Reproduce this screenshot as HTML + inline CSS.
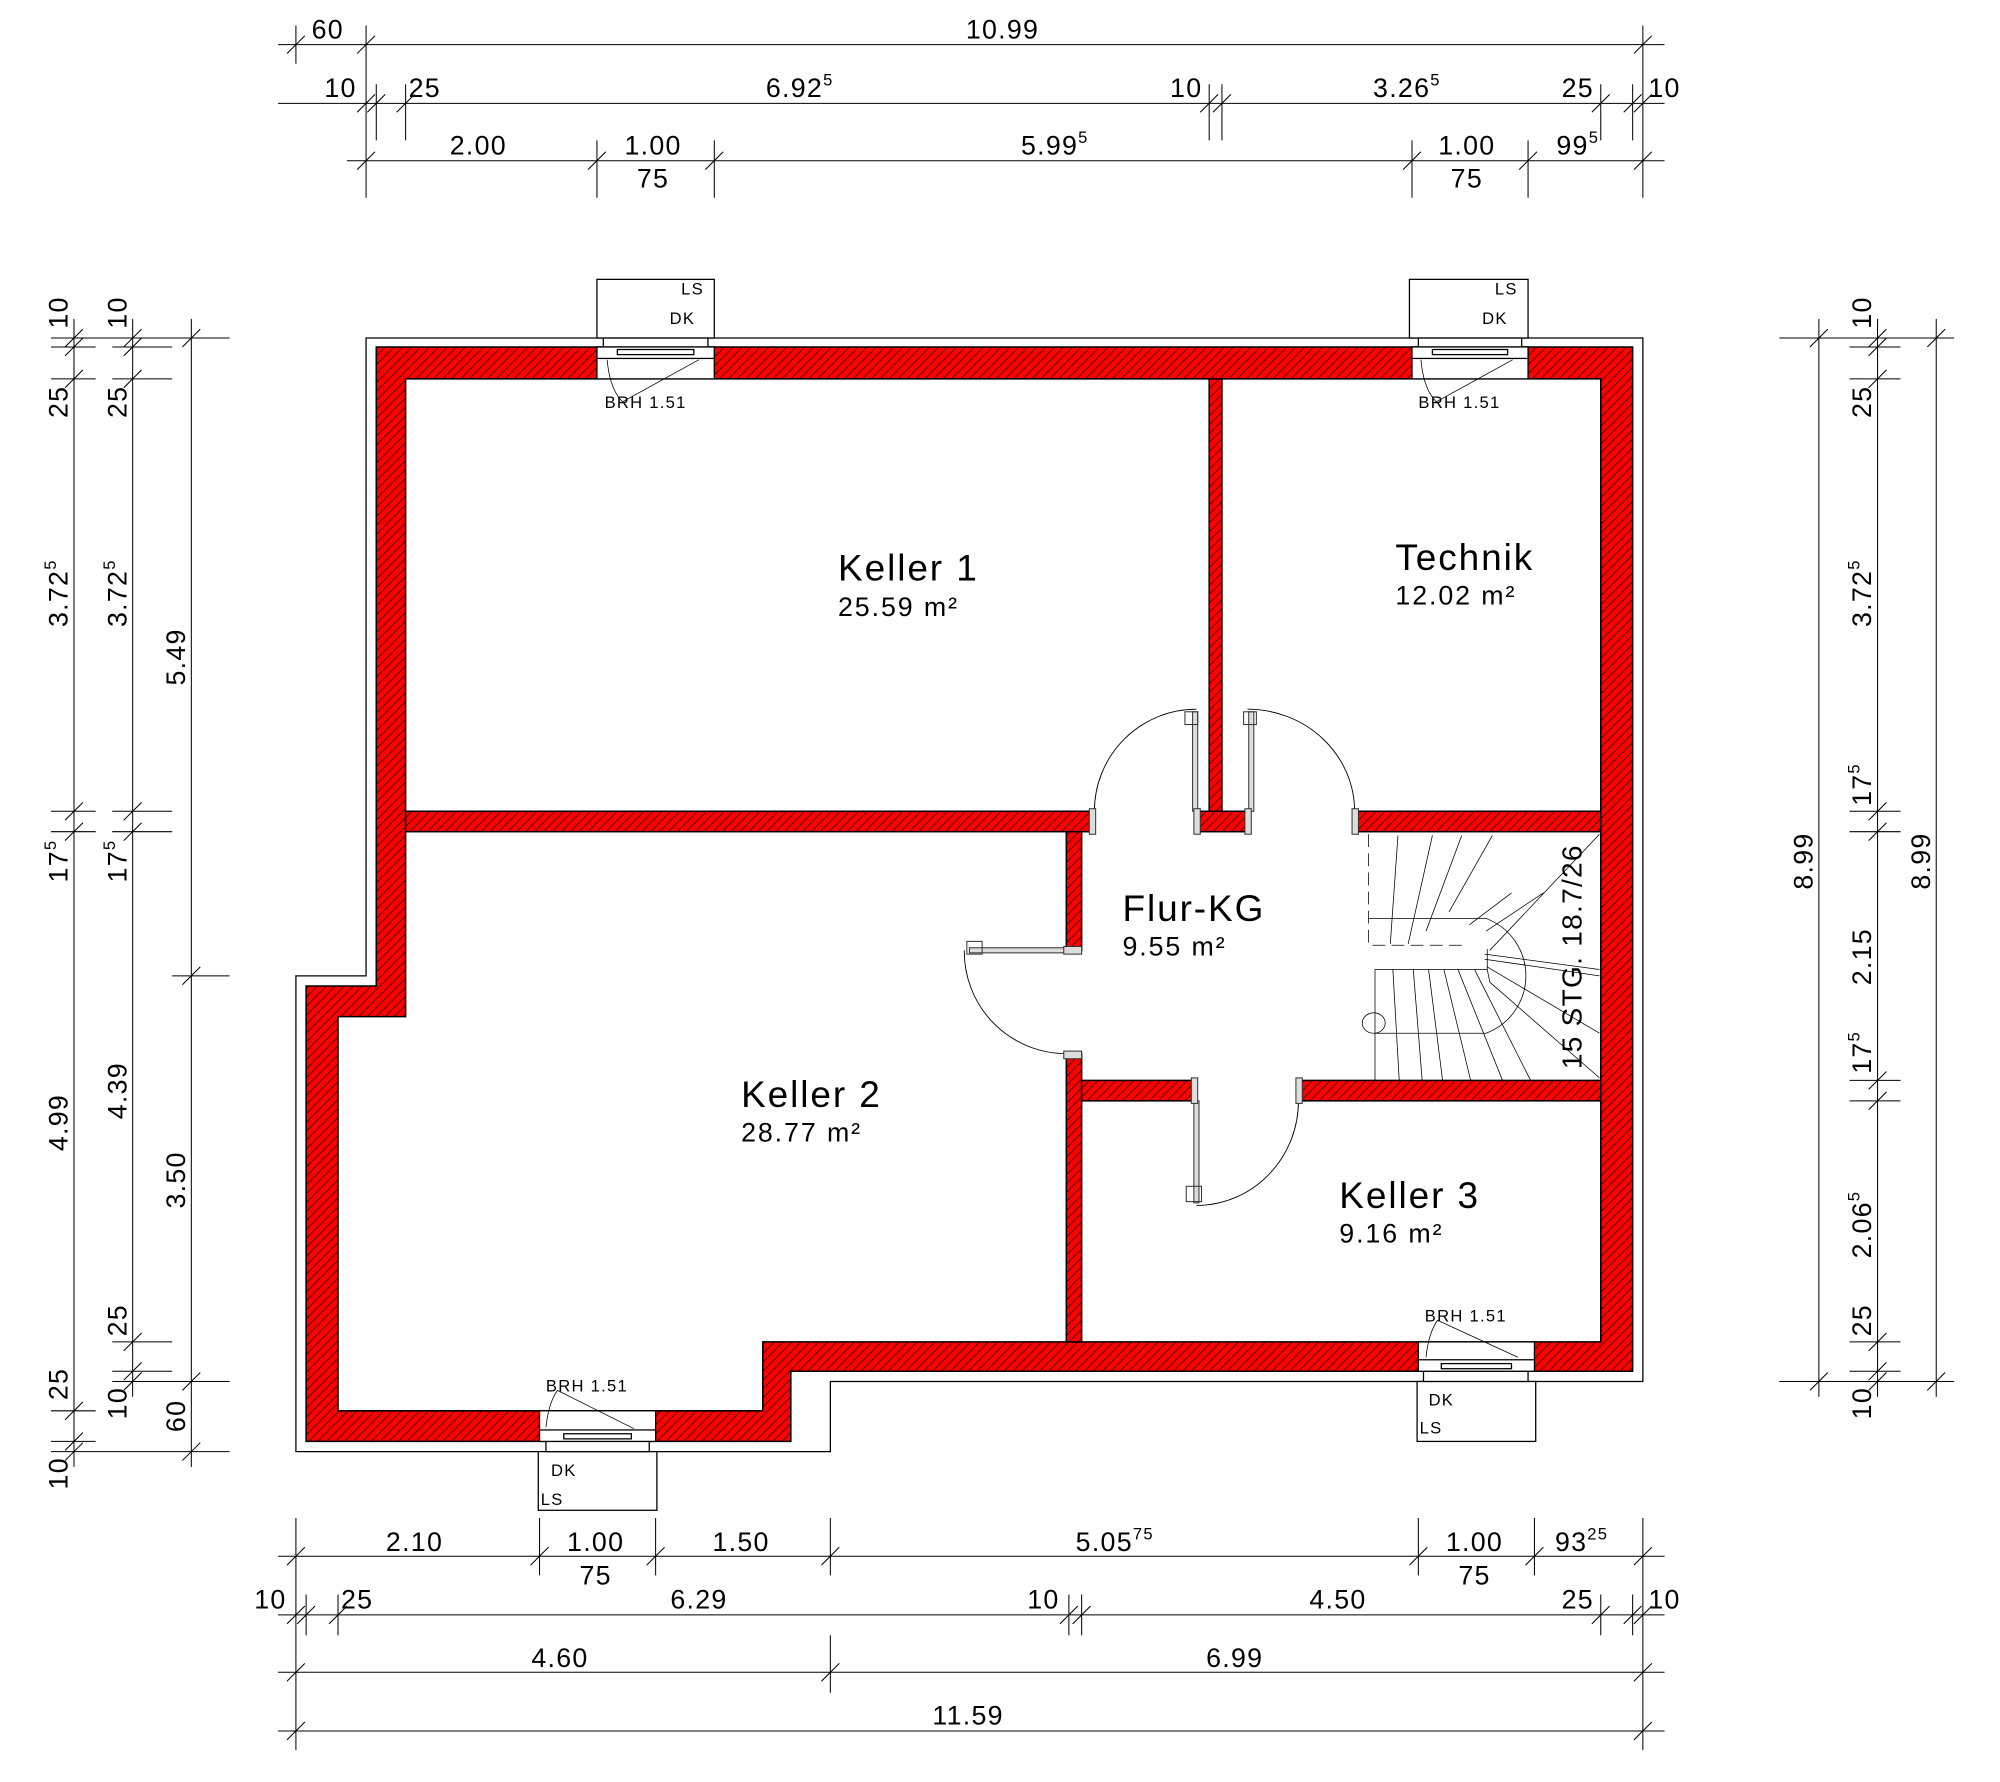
<!DOCTYPE html>
<html><head><meta charset="utf-8"><style>
html,body{margin:0;padding:0;background:#fff;}
svg{display:block}
text{font-family:"Liberation Sans",sans-serif;fill:#000}
.d{font-size:21px;letter-spacing:1px}
.s{font-size:13px}
</style></head><body>
<svg width="2000" height="1782" viewBox="0 0 1568 1397" preserveAspectRatio="none" xmlns="http://www.w3.org/2000/svg">
<defs>
<pattern id="h" width="7" height="7" patternUnits="userSpaceOnUse">
<rect width="7" height="7" fill="#ff0000"/>
<path d="M0 7 L7 0" stroke="#000" stroke-width="0.5"/>
</pattern>
</defs>
<g stroke="#000" fill="none" stroke-width="1">
<path d="M287 265 H1288 V1083 H651 V1138 H232 V765 H287 Z"/>
</g>
<g fill="url(#h)" stroke="#000" stroke-width="1.2">
<path fill-rule="evenodd" d="M295 272 H1280 V1075 H620 V1130 H240 V773 H295 Z M318 297 V797 H265 V1106 H598 V1052 H1255 V297 Z"/>
<rect x="948" y="297" width="10" height="339"/>
<rect x="318" y="636" width="540" height="16"/>
<rect x="938" y="636" width="40" height="16"/>
<rect x="1062" y="636" width="193" height="16"/>
<rect x="836" y="652" width="12" height="93"/>
<rect x="836" y="826" width="12" height="226"/>
<rect x="848" y="847" width="90" height="16"/>
<rect x="1018" y="847" width="237" height="16"/>
</g>
<g stroke="#000" fill="#fff" stroke-width="1">
<rect x="468" y="272" width="92" height="25"/><rect x="468" y="219" width="92" height="46"/><rect x="473" y="265" width="82" height="7"/>
<rect x="468" y="272" width="92" height="9"/><rect x="484" y="274" width="60" height="4"/>
<rect x="1107" y="272" width="91" height="25"/><rect x="1105" y="219" width="93" height="46"/><rect x="1112" y="265" width="81" height="7"/>
<rect x="1107" y="272" width="91" height="9"/><rect x="1123" y="274" width="59" height="4"/>
<rect x="423" y="1106" width="91" height="24"/><rect x="422" y="1138" width="93" height="46"/><rect x="428" y="1130" width="81" height="8"/>
<rect x="423" y="1121" width="91" height="9"/><rect x="442" y="1124" width="53" height="4"/>
<rect x="1112" y="1052" width="91" height="23"/><rect x="1111" y="1083" width="93" height="47"/><rect x="1116" y="1075" width="82" height="8"/>
<rect x="1112" y="1066" width="91" height="9"/><rect x="1130" y="1069" width="55" height="4"/>
</g>
<g stroke="#000" fill="none" stroke-width="0.6">
<path d="M476 282 Q478 305 488 315 L548 282"/>
<path d="M1114 282 Q1116 305 1126 315 L1186 282"/>
<path d="M428 1119 Q430 1100 437 1090 L497 1120"/>
<path d="M1118 1064 Q1120 1045 1127 1035 L1190 1064"/>
</g>
<g class="s" letter-spacing="1">
<text x="534" y="231">LS</text><text x="525" y="254">DK</text><text x="474" y="320">BRH 1.51</text>
<text x="1172" y="231">LS</text><text x="1162" y="254">DK</text><text x="1112" y="320">BRH 1.51</text>
<text x="432" y="1157">DK</text><text x="424" y="1180">LS</text><text x="428" y="1091">BRH 1.51</text>
<text x="1120" y="1102">DK</text><text x="1113" y="1124">LS</text><text x="1117" y="1036">BRH 1.51</text>
</g>
<g stroke="#000" fill="none" stroke-width="0.7">
<path d="M858 636 A80 80 0 0 1 938 556"/>
<path d="M978 556 A84 80 0 0 1 1062 636"/>
<path d="M756 745 A80 80 0 0 0 836 826"/>
<path d="M938 945 A80 82 0 0 0 1018 863"/>
</g>
<g stroke="#333" fill="#ddd" stroke-width="0.8">
<rect x="935" y="558" width="4" height="78"/><rect x="929" y="558" width="10" height="10" fill="none"/>
<rect x="979" y="558" width="4" height="78"/><rect x="975" y="558" width="10" height="10" fill="none"/>
<rect x="760" y="743" width="76" height="4"/><rect x="758" y="738" width="12" height="10" fill="none"/>
<rect x="936" y="863" width="4" height="80"/><rect x="930" y="930" width="12" height="12" fill="none"/>
<rect x="854" y="634" width="5" height="20"/><rect x="1060" y="634" width="5" height="20"/>
<rect x="936" y="634" width="5" height="20"/><rect x="976" y="634" width="5" height="20"/>
<rect x="834" y="742" width="14" height="6"/><rect x="834" y="824" width="14" height="6"/>
<rect x="934" y="845" width="5" height="20"/><rect x="1016" y="845" width="5" height="20"/>
</g>
<g stroke="#000" fill="none" stroke-width="0.6">
<path d="M1073 654 V741 H1150" stroke-dasharray="10 5"/>
<path d="M1078 847 V760 H1166 V744 M1166 760 L1168 770"/>
<path d="M1073 720 H1165 A48 48 0 0 1 1165 810 H1078"/>
<ellipse cx="1077" cy="802" rx="9" ry="8"/>
<path d="M1164 748 L1254 760 M1164 752 L1254 765 M1166 758 L1254 810 M1168 770 L1254 845 M1168 745 L1254 654"/>
<path d="M1097 847 L1092 760 M1115 847 L1108 760 M1131 847 L1120 760 M1153 847 L1132 760 M1178 847 L1143 760 M1200 847 L1156 760"/>
<path d="M1090 740 L1096 655 M1104 740 L1123 655 M1118 730 L1146 655 M1136 715 L1170 655 M1152 725 L1185 700 M1165 730 L1210 700"/>
</g>
<text transform="rotate(-90 1240 750)" x="1240" y="750" text-anchor="middle" font-size="22" letter-spacing="1">15 STG. 18.7/26</text>
<g letter-spacing="1.5">
<text x="657" y="455" font-size="29">Keller 1</text><text x="657" y="483" font-size="21">25.59 m²</text>
<text x="1094" y="447" font-size="29">Technik</text><text x="1094" y="474" font-size="21">12.02 m²</text>
<text x="880" y="722" font-size="29">Flur-KG</text><text x="880" y="749" font-size="21">9.55 m²</text>
<text x="581" y="868" font-size="29">Keller 2</text><text x="581" y="895" font-size="21">28.77 m²</text>
<text x="1050" y="947" font-size="29">Keller 3</text><text x="1050" y="974" font-size="21">9.16 m²</text>
</g>
<g stroke="#000" stroke-width="0.8" fill="none">
<path d="M218 35 H1305 M218 81 H1305 M272 126 H1305"/>
<path d="M232 20 V50 M287 20 V155 M1288 20 V155"/>
<path d="M295 66 V110 M318 66 V110 M948 66 V110 M958 66 V110 M1255 66 V110 M1280 66 V110"/>
<path d="M468 110 V155 M560 110 V155 M1107 110 V155 M1198 110 V155"/>
<path d="M225 42 L239 28 M280 42 L294 28 M1281 42 L1295 28"/>
<path d="M280 88 L294 74 M288 88 L302 74 M311 88 L325 74 M941 88 L955 74 M951 88 L965 74 M1248 88 L1262 74 M1273 88 L1287 74 M1281 88 L1295 74"/>
<path d="M280 133 L294 119 M461 133 L475 119 M553 133 L567 119 M1100 133 L1114 119 M1191 133 L1205 119 M1281 133 L1295 119"/>
<path d="M218 1220 H1305 M218 1266 H1305 M218 1311 H1305 M218 1357 H1305"/>
<path d="M232 1190 V1372 M1288 1190 V1372 M423 1190 V1235 M514 1190 V1235 M651 1190 V1235 M1112 1190 V1235 M1203 1190 V1235"/>
<path d="M240 1250 V1282 M265 1250 V1282 M838 1250 V1282 M848 1250 V1282 M1255 1250 V1282 M1280 1250 V1282 M651 1282 V1327"/>
<path d="M225 1227 L239 1213 M416 1227 L430 1213 M507 1227 L521 1213 M644 1227 L658 1213 M1105 1227 L1119 1213 M1196 1227 L1210 1213 M1281 1227 L1295 1213"/>
<path d="M225 1273 L239 1259 M233 1273 L247 1259 M258 1273 L272 1259 M831 1273 L845 1259 M841 1273 L855 1259 M1248 1273 L1262 1259 M1273 1273 L1287 1259 M1281 1273 L1295 1259"/>
<path d="M225 1318 L239 1304 M644 1318 L658 1304 M1281 1318 L1295 1304 M225 1364 L239 1350 M1281 1364 L1295 1350"/>
<path d="M58 250 V1150 M104 250 V1095 M150 250 V1150"/>
<path d="M40 265 H180 M40 272 H75 M40 297 H75 M40 636 H75 M40 652 H75 M40 1106 H75 M40 1130 H75 M40 1138 H180"/>
<path d="M88 272 H135 M88 297 H135 M88 636 H135 M88 652 H135 M88 1052 H135 M88 1075 H135 M88 1083 H180 M135 765 H180"/>
<path d="M51 272 L65 258 M51 279 L65 265 M51 304 L65 290 M51 643 L65 629 M51 659 L65 645 M51 1113 L65 1099 M51 1137 L65 1123 M51 1145 L65 1131"/>
<path d="M97 272 L111 258 M97 279 L111 265 M97 304 L111 290 M97 643 L111 629 M97 659 L111 645 M97 1059 L111 1045 M97 1082 L111 1068 M97 1090 L111 1076"/>
<path d="M143 272 L157 258 M143 772 L157 758 M143 1090 L157 1076 M143 1145 L157 1131"/>
<path d="M1426 250 V1095 M1472 250 V1095 M1518 250 V1095"/>
<path d="M1395 265 H1532 M1395 1083 H1532"/>
<path d="M1450 272 H1490 M1450 297 H1490 M1450 636 H1490 M1450 652 H1490 M1450 847 H1490 M1450 863 H1490 M1450 1052 H1490 M1450 1075 H1490"/>
<path d="M1419 272 L1433 258 M1419 1090 L1433 1076 M1511 272 L1525 258 M1511 1090 L1525 1076"/>
<path d="M1465 272 L1479 258 M1465 279 L1479 265 M1465 304 L1479 290 M1465 643 L1479 629 M1465 659 L1479 645 M1465 854 L1479 840 M1465 870 L1479 856 M1465 1059 L1479 1045 M1465 1082 L1479 1068 M1465 1090 L1479 1076"/>
</g>
<g class="d" text-anchor="middle">
<text x="257" y="30">60</text><text x="786" y="30">10.99</text>
<text x="267" y="76">10</text><text x="333" y="76">25</text><text x="627" y="76">6.92<tspan dy="-9" class="s">5</tspan></text><text x="930" y="76">10</text><text x="1103" y="76">3.26<tspan dy="-9" class="s">5</tspan></text><text x="1237" y="76">25</text><text x="1305" y="76">10</text>
<text x="375" y="121">2.00</text><text x="512" y="121">1.00</text><text x="512" y="147">75</text><text x="827" y="121">5.99<tspan dy="-9" class="s">5</tspan></text><text x="1150" y="121">1.00</text><text x="1150" y="147">75</text><text x="1237" y="121">99<tspan dy="-9" class="s">5</tspan></text>
<text x="325" y="1216">2.10</text><text x="467" y="1216">1.00</text><text x="467" y="1242">75</text><text x="581" y="1216">1.50</text><text x="874" y="1216">5.05<tspan dy="-9" class="s">75</tspan></text><text x="1156" y="1216">1.00</text><text x="1156" y="1242">75</text><text x="1240" y="1216">93<tspan dy="-9" class="s">25</tspan></text>
<text x="212" y="1261">10</text><text x="280" y="1261">25</text><text x="548" y="1261">6.29</text><text x="818" y="1261">10</text><text x="1049" y="1261">4.50</text><text x="1237" y="1261">25</text><text x="1305" y="1261">10</text>
<text x="439" y="1307">4.60</text><text x="968" y="1307">6.99</text><text x="759" y="1352">11.59</text>
</g>
<g class="d" text-anchor="middle">
<text transform="rotate(-90 53 245)" x="53" y="245">10</text>
<text transform="rotate(-90 53 315)" x="53" y="315">25</text>
<text transform="rotate(-90 53 465)" x="53" y="465">3.72<tspan dy="-9" class="s">5</tspan></text>
<text transform="rotate(-90 53 675)" x="53" y="675">17<tspan dy="-9" class="s">5</tspan></text>
<text transform="rotate(-90 53 880)" x="53" y="880">4.99</text>
<text transform="rotate(-90 53 1085)" x="53" y="1085">25</text>
<text transform="rotate(-90 53 1155)" x="53" y="1155">10</text>
<text transform="rotate(-90 99 245)" x="99" y="245">10</text>
<text transform="rotate(-90 99 315)" x="99" y="315">25</text>
<text transform="rotate(-90 99 465)" x="99" y="465">3.72<tspan dy="-9" class="s">5</tspan></text>
<text transform="rotate(-90 99 675)" x="99" y="675">17<tspan dy="-9" class="s">5</tspan></text>
<text transform="rotate(-90 99 855)" x="99" y="855">4.39</text>
<text transform="rotate(-90 99 1035)" x="99" y="1035">25</text>
<text transform="rotate(-90 99 1100)" x="99" y="1100">10</text>
<text transform="rotate(-90 145 515)" x="145" y="515">5.49</text>
<text transform="rotate(-90 145 925)" x="145" y="925">3.50</text>
<text transform="rotate(-90 145 1110)" x="145" y="1110">60</text>
<text transform="rotate(-90 1421 675)" x="1421" y="675">8.99</text>
<text transform="rotate(-90 1513 675)" x="1513" y="675">8.99</text>
<text transform="rotate(-90 1467 245)" x="1467" y="245">10</text>
<text transform="rotate(-90 1467 315)" x="1467" y="315">25</text>
<text transform="rotate(-90 1467 465)" x="1467" y="465">3.72<tspan dy="-9" class="s">5</tspan></text>
<text transform="rotate(-90 1467 615)" x="1467" y="615">17<tspan dy="-9" class="s">5</tspan></text>
<text transform="rotate(-90 1467 750)" x="1467" y="750">2.15</text>
<text transform="rotate(-90 1467 825)" x="1467" y="825">17<tspan dy="-9" class="s">5</tspan></text>
<text transform="rotate(-90 1467 960)" x="1467" y="960">2.06<tspan dy="-9" class="s">5</tspan></text>
<text transform="rotate(-90 1467 1035)" x="1467" y="1035">25</text>
<text transform="rotate(-90 1467 1100)" x="1467" y="1100">10</text>
</g>
</svg>
</body></html>
